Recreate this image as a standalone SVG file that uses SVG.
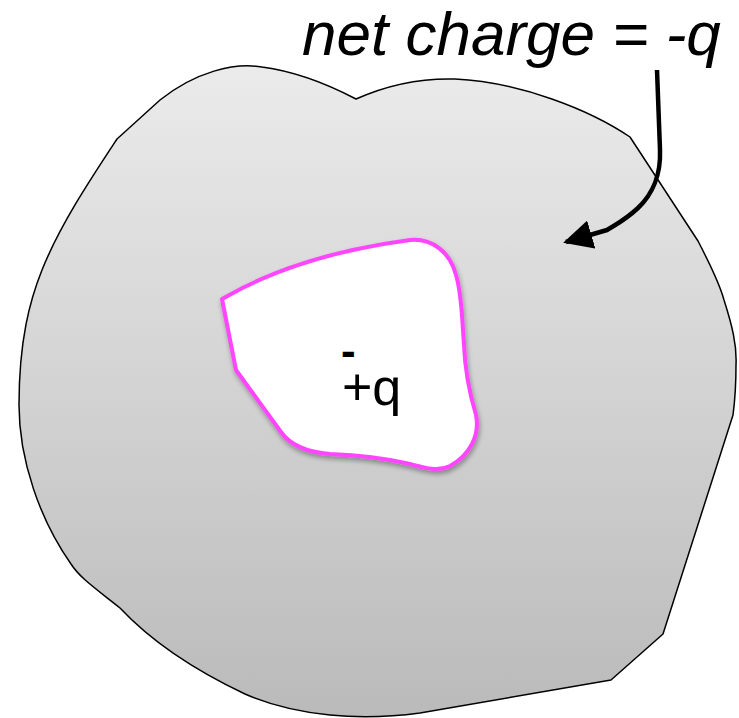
<svg xmlns="http://www.w3.org/2000/svg" width="739" height="718" viewBox="0 0 739 718">
  <defs>
    <linearGradient id="bodyGrad" x1="0" y1="0" x2="0" y2="1">
      <stop offset="0" stop-color="#ebebeb"/>
      <stop offset="1" stop-color="#bababa"/>
    </linearGradient>
    <filter id="shadow" x="-10%" y="-10%" width="130%" height="130%">
      <feGaussianBlur in="SourceAlpha" stdDeviation="2.5"/>
      <feOffset dx="1" dy="3" result="b"/>
      <feComponentTransfer><feFuncA type="linear" slope="0.35"/></feComponentTransfer>
      <feMerge><feMergeNode/><feMergeNode in="SourceGraphic"/></feMerge>
    </filter>
    <marker id="arrowHead" viewBox="0 0 10 10" refX="9" refY="5" markerWidth="6.5" markerHeight="6.5" markerUnits="strokeWidth" orient="auto">
      <path d="M0,0 L10,5 L0,10 Z" fill="#000"/>
    </marker>
    <style>
      .label { font-family: "Liberation Sans", Arial, sans-serif; fill: #000; }
    </style>
  </defs>

  <g id="conductor">
    <path d="M117,139 L160,100 C195,72 235,62 262,67 C300,72 335,88 356,99 C385,86 420,78 455,79 C520,82 590,110 630,137 L698,241 C712,268 720,285 724,300 C732,325 737,345 736,365 C736,385 735,400 733,415 L663,634 L611,680 L420,713 C390,717 360,718 330,715 C300,712 270,705 245,694 C190,668 150,640 120,608 C95,588 80,578 71,564 C40,520 19,460 19,405 C19,340 30,300 42,270 C60,225 90,180 117,139 Z"
          fill="url(#bodyGrad)" stroke="#000" stroke-width="1.5" stroke-linejoin="round"/>
  </g>

  <g id="cavity">
    <path d="M222,299 C280,265 350,248 410,240 C432,238 450,252 456,275 C462,295 462,320 464,345 C465,372 470,395 476,415 C480,435 470,455 450,466 C438,472 425,468 410,464 C385,458 360,455 330,454 C305,452 290,445 281,432 L236,370 Z"
          fill="#fff" stroke="#ff44ff" stroke-width="4" stroke-linejoin="round" filter="url(#shadow)"/>
    <text class="label" x="341" y="366" font-size="44" font-weight="bold">-</text>
    <text class="label" x="342" y="405" font-size="52">+q</text>
  </g>

  <g id="title">
    <text class="label" x="302" y="55" font-size="62" font-style="italic">net charge = -q</text>
  </g>

  <g id="connectors">
    <path d="M657,70 L660,150 C661,175 652,195 638,208 C625,220 620,222 607,230 L566,242" fill="none" stroke="#000" stroke-width="4.5" stroke-linecap="butt" stroke-linejoin="round" marker-end="url(#arrowHead)"/>
  </g>
</svg>
